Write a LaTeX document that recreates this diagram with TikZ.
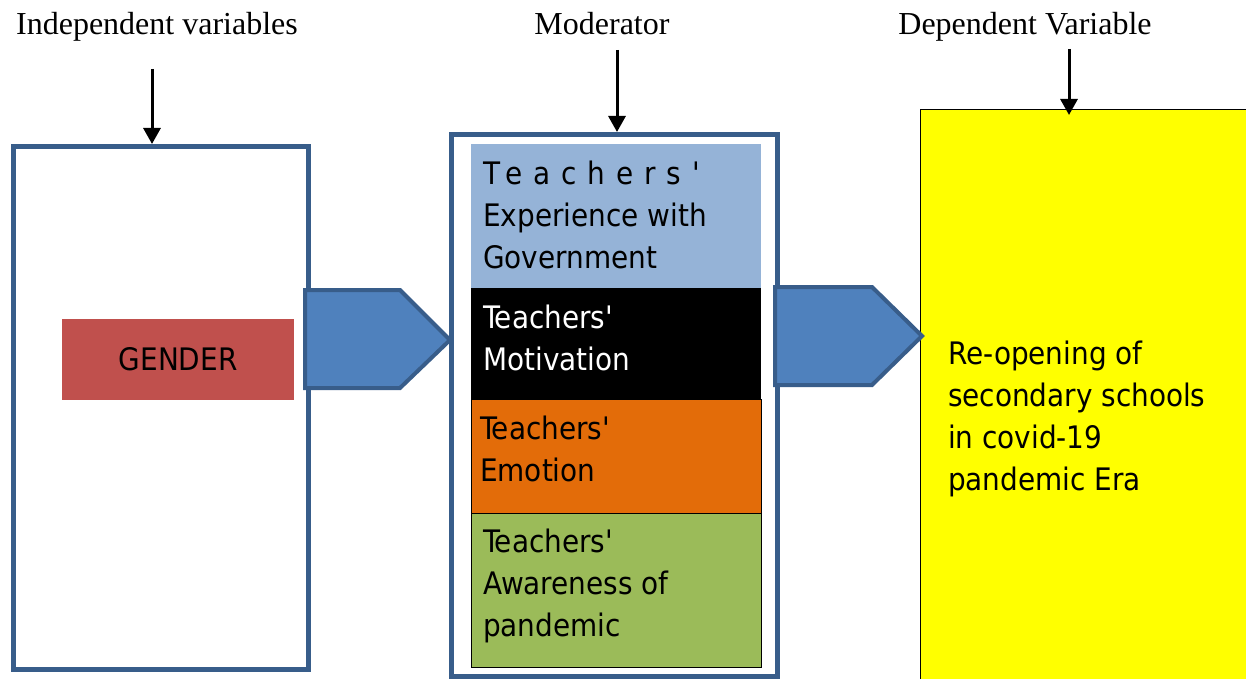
\documentclass[tikz,border=0pt]{standalone}
\usepackage{fontspec}
\setmainfont{Liberation Serif}
\newfontfamily\tah{DejaVu Sans Condensed}
\usetikzlibrary{arrows.meta}
\definecolor{frameblue}{HTML}{385D8A}
\definecolor{arrowblue}{HTML}{4F81BD}
\definecolor{lightblue}{HTML}{95B3D7}
\definecolor{orangebox}{HTML}{E36C09}
\definecolor{greenbox}{HTML}{9BBB59}
\definecolor{redbox}{HTML}{C0504D}
\definecolor{yellowbox}{HTML}{FFFF00}
\tikzset{
  head/.style={font=\fontsize{32}{38}\selectfont, inner sep=0pt, anchor=base},
  frame/.style={draw=frameblue, line width=5pt, fill=white, inner sep=0pt, anchor=north west},
  block/.style={inner sep=0pt, anchor=north west},
  label/.style={font=\tah\fontsize{31}{42}\selectfont, align=left, inner sep=0pt, anchor=base west},
  blockarrow/.style={fill=arrowblue, draw=frameblue, line width=4pt, line join=miter},
  downarrow/.style={line width=3pt, -{Triangle[width=17pt,length=16pt]}}
}
\begin{document}
\begin{tikzpicture}[x=1pt,y=-1pt]
\useasboundingbox (0,0) rectangle (1246,679);
\clip (0,0) rectangle (1246,679);
\fill[white] (0,0) rectangle (1246,679);

% headings
\node[head] (hind) at (157,35) {Independent variables};
\node[head] (hmod) at (602,35) {Moderator};
\node[head] (hdep) at (1025,35) {Dependent Variable};

% left frame
\node[frame, minimum width=295pt, minimum height=523pt] (ivbox) at (10.5,144) {};
\node[block, fill=redbox, minimum width=232pt, minimum height=81pt,
      font=\tah\fontsize{31}{42}\selectfont] (gender) at (62,319) {GENDER};

% middle frame
\node[frame, minimum width=326pt, minimum height=542pt] (modbox) at (449,132) {};
\node[block, fill=lightblue, minimum width=290pt, minimum height=144pt] (bexp) at (471,144) {};
\node[block, fill=black, minimum width=290pt, minimum height=111pt] (bmot) at (471,288) {};
\node[block, fill=orangebox, draw=black, line width=1pt, minimum width=290pt, minimum height=114pt] (bemo) at (471,399) {};
\node[block, fill=greenbox, draw=black, line width=1pt, minimum width=290pt, minimum height=154pt] (bawa) at (471,513) {};

% (base anchor of a multi-line node = baseline of its last line)
\node[label] (texp) at (483,268) {{\addfontfeature{LetterSpace=35}Teachers'}\\Experience with\\Government};
\node[label, text=white] (tmot) at (483,370) {Teachers'\\Motivation};
\node[label] (temo) at (480,481) {Teachers'\\Emotion};
\node[label] (tawa) at (483,636) {Teachers'\\Awareness of\\pandemic};

% right box
\node[block, fill=yellowbox, draw=black, line width=1pt, minimum width=400pt, minimum height=650pt] (depbox) at (920,109) {};
\node[label] (tdep) at (948,490) {Re-opening of\\secondary schools\\in covid-19\\pandemic Era};

% block arrows
\draw[blockarrow] (305,290) -- (400,290) -- (450,340) -- (400,388) -- (305,388) -- cycle;
\draw[blockarrow] (775,287) -- (872,287) -- (922,336) -- (872,385) -- (775,385) -- cycle;

% down arrows
\coordinate (s1) at (152,69);
\coordinate (s2) at (617,50);
\coordinate (s3) at (1069,49);
\coordinate (e3) at (1069,115);
\draw[downarrow] (s1) -- (s1 |- ivbox.north);
\draw[downarrow] (s2) -- (s2 |- modbox.north);
\draw[downarrow] (s3) -- (e3);
\end{tikzpicture}
\end{document}
